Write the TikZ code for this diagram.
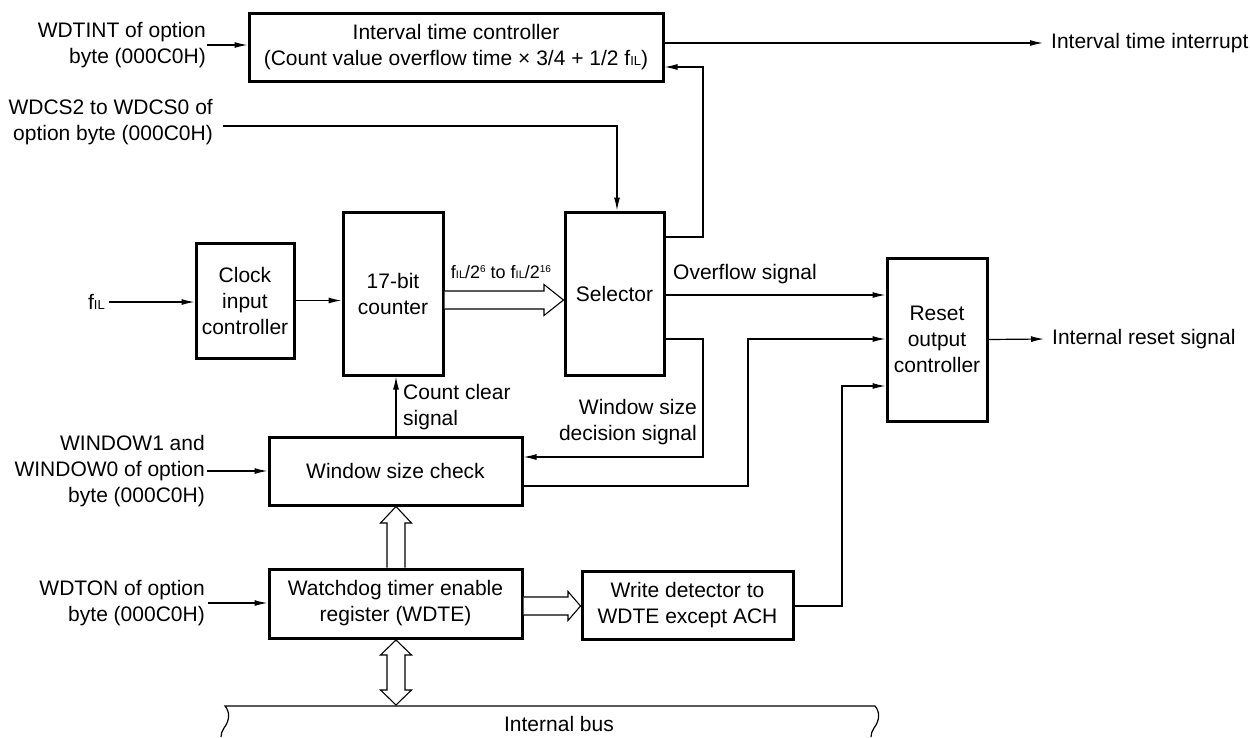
\documentclass[tikz,border=0pt]{standalone}
\usepackage{fontspec}
\setmainfont{Liberation Sans}
\usetikzlibrary{arrows.meta,calc}
\newcommand{\myfs}{\fontsize{21}{26}\selectfont}
\newcommand{\fil}{f{\fontsize{13}{13}\selectfont IL}}
\newcommand{\filsm}{f{\fontsize{11}{11}\selectfont IL}}
\newcommand{\sps}[1]{\raisebox{6.5pt}{\fontsize{10}{10}\selectfont #1}}
\begin{document}
\begin{tikzpicture}[x=1pt,y=-1pt,
  box/.style={draw,line width=3pt,inner sep=0pt,align=center,font=\myfs},
  lbl/.style={inner sep=0pt,font=\myfs},
  sig/.style={line width=1.2pt,-{Latex[length=13pt,width=6pt]}},
  wire/.style={line width=1.2pt},
  hollow/.style={line width=1.1pt,fill=white,line join=miter}]
\path[use as bounding box] (0,0) rectangle (1250,737);

% boxes
\node[box,minimum width=414pt,minimum height=68pt] (itc) at (456,47) {Interval time controller\\(Count value overflow time × 3/4 + 1/2 \fil)};
\node[box,minimum width=98pt,minimum height=115pt] (clk) at (245,300.5) {Clock\\input\\controller};
\node[box,minimum width=100pt,minimum height=163pt] (cnt) at (393,293.5) {17-bit\\counter};
\node[box,minimum width=99pt,minimum height=163pt] (sel) at (614.5,293.5) {Selector};
\node[box,minimum width=100pt,minimum height=163pt] (rst) at (937,339.5) {Reset\\output\\controller};
\node[box,minimum width=253pt,minimum height=68pt] (wsc) at (395.5,471) {Window size check};
\node[box,minimum width=253pt,minimum height=69pt] (wdte) at (395.5,603.5) {Watchdog timer enable\\register (WDTE)};
\node[box,minimum width=211pt,minimum height=68pt] (wd) at (687.5,605) {Write detector to\\WDTE except ACH};

% labels
\node[lbl,anchor=east,align=right] (lwdtint) at (206,45) {WDTINT of option\\byte (000C0H)};
\node[lbl,anchor=east,align=right] (lwdcs) at (213,122) {WDCS2 to WDCS0 of\\option byte (000C0H)};
\node[lbl,anchor=east] (lfil) at (105,302) {\fil};
\node[lbl,anchor=east,align=right] (lwin) at (205,471) {WINDOW1 and\\WINDOW0 of option\\byte (000C0H)};
\node[lbl,anchor=east,align=right] (lwdton) at (205,603) {WDTON of option\\byte (000C0H)};
\node[lbl,anchor=west] (lint) at (1051,43) {Interval time interrupt};
\node[lbl,anchor=west] (lrst) at (1052,339) {Internal reset signal};
\node[lbl,font=\fontsize{18}{22}\selectfont] (lfrac) at (501,272) {\filsm/2\sps{6} to \filsm/2\sps{16}};
\node[lbl,anchor=west] (lovf) at (673,274) {Overflow signal};
\node[lbl,anchor=east,align=right] (ldec) at (697,422) {Window size\\decision signal};
\node[lbl,anchor=west,align=left] (lclr) at (403,407) {Count clear\\signal};
\node[lbl] (lbus) at (559,724) {Internal bus};

\coordinate (wdcsstart) at (223,126);
\coordinate (wdcsbend) at (617,126);
\coordinate (fbx) at (703,0);
\coordinate (wcx) at (748,0);
\coordinate (wdx) at (842,0);

% signal connectors
\draw[sig] ([xshift=1pt]lwdtint.east) -- (lwdtint.east -| itc.west);
\draw[sig] (wdcsstart) -- (wdcsbend) -- (wdcsbend |- sel.north);
\draw[sig] ([xshift=4pt]lfil.east) -- (lfil.east -| clk.west);
\draw[sig] (clk.east) -- (clk.east -| cnt.west);
\draw[sig] (itc.east |- 0,43) -- ([xshift=-8pt]lint.west);
\draw[sig] (sel.east |- 0,237) -- (fbx |- 0,237) -- (fbx |- 0,67) -- (itc.east |- 0,67);
\draw[sig] (sel.east |- 0,295) -- (rst.west |- 0,295);
\draw[sig] (sel.east |- 0,339) -- (fbx |- 0,339) -- (fbx |- 0,457) -- (wsc.east |- 0,457);
\draw[sig] (wsc.east |- 0,486) -- (wcx |- 0,486) -- (wcx |- 0,339) -- (rst.west |- 0,339);
\draw[sig] (wd.east |- 0,606) -- (wdx |- 0,606) -- (wdx |- 0,386) -- (rst.west |- 0,386);
\draw[sig] (rst.east) -- ([xshift=-8pt]lrst.west);
\draw[sig] (wsc.north -| 396,0) -- (cnt.south -| 396,0);
\draw[sig] ([xshift=2pt]lwin.east) -- (lwin.east -| wsc.west);
\draw[sig] ([xshift=3pt]lwdton.east) -- (lwdton.east -| wdte.west);

% hollow bus arrows
\draw[hollow] (cnt.east |- 0,291) -- (544,291) -- (544,284.5) -- (sel.west |- 0,300) -- (544,315.5) -- (544,309) -- (cnt.east |- 0,309);
\draw[hollow] (wdte.north -| 387,0) -- (387,523) -- (380.5,523) -- (wsc.south -| 396,0) -- (411.5,523) -- (405,523) -- (wdte.north -| 405,0);
\draw[hollow] (wdte.east |- 0,597) -- (568,597) -- (568,591.5) -- (wd.west |- 0,606) -- (568,620.5) -- (568,615) -- (wdte.east |- 0,615);
\draw[hollow] (396,640) -- (411.5,655) -- (405,655) -- (405,690) -- (411.5,690) -- (396,705) -- (380.5,690) -- (387,690) -- (387,655) -- (380.5,655) -- cycle;

% internal bus
\draw[wire] (221,737) .. controls (221,734) and (222,731) .. (224,728) .. controls (230,720) and (230,712) .. (225,706) -- (875,706) .. controls (880,712) and (880,720) .. (874,728) .. controls (872,731) and (871,734) .. (871,737);
\end{tikzpicture}
\end{document}
